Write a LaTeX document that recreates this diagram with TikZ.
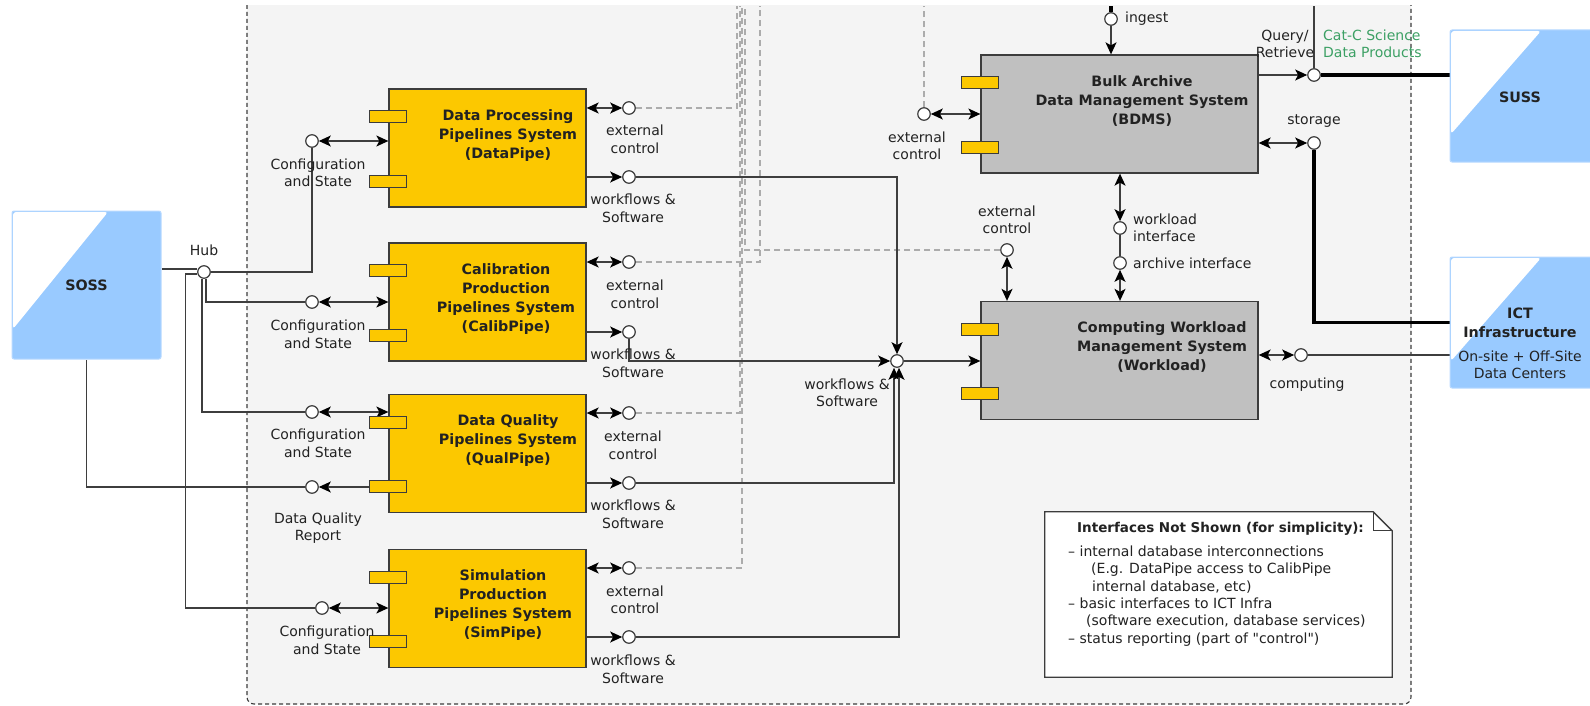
\documentclass[tikz,border=0pt]{standalone}
\usepackage{fontspec}
\setmainfont{DejaVu Sans}
% same face without the TeX input mapping, so that " stays a straight quote
\newfontfamily\straightq{DejaVu Sans}
\usetikzlibrary{arrows.meta,calc}

\definecolor{pipeyel}{RGB}{252,200,0}
\definecolor{sysgray}{RGB}{192,192,192}
\definecolor{edgec}{RGB}{60,60,60}
\definecolor{linec}{RGB}{62,62,62}
\definecolor{dashc}{RGB}{172,172,172}
\definecolor{panel}{RGB}{244,244,244}
\definecolor{extblue}{RGB}{153,202,255}
\definecolor{extedge}{RGB}{185,218,255}
\definecolor{prodgreen}{RGB}{60,160,100}
\definecolor{txt}{RGB}{34,34,34}

\pgfdeclarelayer{panel layer}
\pgfdeclarelayer{wire layer}
\pgfsetlayers{panel layer,wire layer,main}

% two small connector ports on the left edge of a component box
\newcommand\twoports[1]{%
  \draw[port] ([shift={(-18.5,22.5)}]#1.north west) rectangle ([shift={(18.5,34.5)}]#1.north west);
  \draw[port] ([shift={(-18.5,87)}]#1.north west) rectangle ([shift={(18.5,99)}]#1.north west);}

\begin{document}
\begin{tikzpicture}[x=1pt,y=-1pt,
  every node/.style={text=txt, font=\fontsize{14}{17.5}\selectfont, inner sep=0pt},
  lbl/.style={align=center},
  comp/.style={draw=edgec, line width=1.3pt, fill=pipeyel, minimum width=197pt, minimum height=118pt},
  core/.style={comp, fill=sysgray, minimum width=277pt},
  ctitle/.style={anchor=north, align=center, font=\fontsize{14.3}{19}\selectfont\bfseries},
  port/.style={draw=edgec, line width=1.1pt, fill=pipeyel},
  iface/.style={circle, draw=edgec, line width=1.2pt, fill=white, minimum size=12.5pt},
  wire/.style={draw=linec, line width=1.3pt},
  sarr/.style={wire, -{Stealth[length=12pt,width=11pt,inset=3pt,color=black]}},
  darr/.style={wire, {Stealth[length=12pt,width=11pt,inset=3pt,color=black]}-{Stealth[length=12pt,width=11pt,inset=3pt,color=black]}},
  ctrl/.style={draw=dashc, line width=1.2pt, dash pattern=on 6pt off 4pt},
  heavy/.style={draw=black, line width=3.5pt},
  boldlbl/.style={align=center, font=\fontsize{14.3}{19}\selectfont\bfseries},
  extsys/.style n args={2}{draw=extedge, line width=1pt, fill=extblue, rounded corners=2pt,
     font=\fontsize{14.3}{17.5}\selectfont\bfseries, align=center,
     path picture={\fill[white, rounded corners=3pt]
       ([shift={(1pt,-1pt)}]path picture bounding box.north west) -- ++(#1,0) -- ++(-#1,#2) -- cycle;}},
]
\useasboundingbox (0,0) rectangle (1590,706);

% page and subsystem panel
\begin{pgfonlayer}{panel layer}
  \fill[white] (0,0) rectangle (1590,706);
  \begin{scope}
    \clip (0,6) rectangle (1590,706);
    \draw[fill=panel, draw=edgec, line width=1.1pt, dash pattern=on 4pt off 3pt, rounded corners=7pt]
      (247,-30) rectangle (1411,704);
  \end{scope}
\end{pgfonlayer}

% external systems
\node[extsys={95}{117}, minimum width=149pt, minimum height=148pt] (soss) at (86.5,285) {SOSS};
\node[extsys={90}{103}, minimum width=160pt, minimum height=132pt] (suss) at (1530,96) {};
\node[boldlbl] (sussl) at (1520,97) {SUSS};
\node[extsys={90}{103}, minimum width=160pt, minimum height=131pt] (ict) at (1530,322.5) {};
\node[boldlbl] (ictl) at (1520,323) {ICT\\Infrastructure};
\node[lbl, font=\fontsize{14}{17}\selectfont] (ictsub) at (1520,364.5) {On-site + Off-Site\\Data Centers};

% pipeline components
\node[comp] (dp) at (487.5,148) {};
\twoports{dp}
\node[ctitle] (dpt) at ([shift={(20.5,21)}]dp.north) {Data Processing\\Pipelines System\\(DataPipe)};
\node[comp] (cp) at (487.5,302) {};
\twoports{cp}
\node[ctitle] (cpt) at ([shift={(18.5,21)}]cp.north) {Calibration\\Production\\Pipelines System\\(CalibPipe)};
\node[comp] (qp) at (487.5,453.5) {};
\twoports{qp}
\node[ctitle] (qpt) at ([shift={(20.5,21)}]qp.north) {Data Quality\\Pipelines System\\(QualPipe)};
\node[comp] (sp) at (487.5,608.5) {};
\twoports{sp}
\node[ctitle] (spt) at ([shift={(15.5,21)}]sp.north) {Simulation\\Production\\Pipelines System\\(SimPipe)};

% archive and workload components
\node[core] (bdms) at (1119.5,114) {};
\twoports{bdms}
\node[ctitle] (bdmst) at ([shift={(22.5,21)}]bdms.north) {Bulk Archive\\Data Management System\\(BDMS)};
\node[core] (wl) at (1119.5,360.5) {};
\twoports{wl}
\node[ctitle] (wlt) at ([shift={(42.5,21)}]wl.north) {Computing Workload\\Management System\\(Workload)};

% provided / required interfaces
\node[iface] (hub) at (204,272) {};
\node[iface] (cfg1) at (312,141) {};
\node[iface] (cfg2) at (312,302) {};
\node[iface] (cfg3) at (312,412) {};
\node[iface] (cfg4) at (322,608) {};
\node[iface] (dqr) at (312,487) {};
\node[iface] (ec1) at (629,108) {};
\node[iface] (ec2) at (629,262) {};
\node[iface] (ec3) at (629,413) {};
\node[iface] (ec4) at (629,568) {};
\node[iface] (wf1) at (629,177) {};
\node[iface] (wf2) at (629,332) {};
\node[iface] (wf3) at (629,483) {};
\node[iface] (wf4) at (629,637) {};
\node[iface] (merge) at (897,361) {};
\node[iface] (ec5) at (924,114) {};
\node[iface] (ec6) at (1007,250) {};
\node[iface] (wi) at (1120,228) {};
\node[iface] (ai) at (1120,263) {};
\node[iface] (ing) at (1111,19) {};
\node[iface] (qr) at (1314,75) {};
\node[iface] (st) at (1314,143) {};
\node[iface] (cmp) at (1301,355) {};

% interface labels
\node[lbl] (hubl) at (204,250) {Hub};
\node[lbl] (cfg1l) at (318,173) {Configuration\\and State};
\node[lbl] (cfg2l) at (318,334.5) {Configuration\\and State};
\node[lbl] (cfg3l) at (318,443.5) {Configuration\\and State};
\node[lbl] (cfg4l) at (327,640.5) {Configuration\\and State};
\node[lbl] (dqrl) at (318,528) {Data Quality\\Report};
\node[lbl] (ec1l) at (635,139.5) {external\\control};
\node[lbl] (ec2l) at (635,294.5) {external\\control};
\node[lbl] (ec3l) at (633,445.5) {external\\control};
\node[lbl] (ec4l) at (635,600) {external\\control};
\node[lbl] (wf1l) at (633,208.5) {workflows \&\\Software};
\node[lbl] (wf2l) at (633,363.5) {workflows \&\\Software};
\node[lbl] (wf3l) at (633,514.5) {workflows \&\\Software};
\node[lbl] (wf4l) at (633,669.5) {workflows \&\\Software};
\node[lbl] (mergel) at (847,393) {workflows \&\\Software};
\node[lbl] (ec5l) at (917,146) {external\\control};
\node[lbl] (ec6l) at (1007,220) {external\\control};
\node[anchor=west, align=left] (wil) at (1133,228) {workload\\interface};
\node[anchor=west] (ail) at (1133,263) {archive interface};
\node[anchor=west] (ingl) at (1125,19) {ingest};
\node[lbl] (qrl) at (1285,44) {Query/\\Retrieve};
\node[anchor=west, align=left, text=prodgreen] (catl) at (1323,44) {Cat-C Science\\Data Products};
\node[lbl] (stl) at (1314,121) {storage};
\node[lbl] (cmpl) at (1307,385) {computing};

% note
\node[minimum width=347pt, minimum height=165pt] (note) at (1218.5,594.5) {};
\draw[draw=edgec, line width=1.3pt, fill=white]
  (note.north west) -- ([xshift=-19pt]note.north east) -- ([yshift=-19pt]note.north east)
  -- (note.south east) -- (note.south west) -- cycle;
\draw[draw=edgec, line width=1.3pt] ([xshift=-19pt]note.north east) |- ([yshift=-19pt]note.north east);
\node[anchor=west, font=\fontsize{13.5}{17.5}\selectfont\bfseries] (notet) at (1077,529) {Interfaces Not Shown (for simplicity):};
\node[anchor=north west, align=left, font=\fontsize{14}{17.4}\selectfont] (notel) at (1068,545.5)
  {– internal database interconnections\\
   \hspace*{23pt}(E.g. DataPipe access to CalibPipe\\
   \hspace*{24pt}internal database, etc)\\
   – basic interfaces to ICT Infra\\
   \hspace*{18pt}(software execution, database services)\\
   – status reporting (part of {\straightq"}control{\straightq"})};

% free ends at the top edge
\coordinate (c1top) at (737,6);
\coordinate (c2top) at (760,6);
\coordinate (c3top) at (740,6);
\coordinate (c4top) at (742,6);
\coordinate (c5top) at (924,6);
\coordinate (c6top) at (745,6);
\coordinate (ingtop) at (1111,6);
\coordinate (qrtop) at (1314,6);
\coordinate (hubin) at ([yshift=3pt]hub.west);
\coordinate (hubsim) at ([yshift=-2pt]hub.west);
\coordinate (mq) at ([xshift=-3pt]merge.south);
\coordinate (ms) at ([xshift=2pt]merge.south);

\begin{pgfonlayer}{wire layer}
  % hub distribution
  \draw[wire] (hubin -| soss.east) -- (hubin);
  \draw[wire] (hub) -| (cfg1);
  \draw[wire] ([xshift=2pt]hub.south) |- (cfg2);
  \draw[wire] ([xshift=-2pt]hub.south) |- (cfg3);
  \draw[wire] (hubsim) -- ++(-12,0) |- (cfg4);
  \draw[darr] (cfg1) -- (cfg1 -| dp.west);
  \draw[darr] (cfg2) -- (cfg2 -| cp.west);
  \draw[darr] (cfg3) -- (cfg3 -| qp.west);
  \draw[darr] (cfg4) -- (cfg4 -| sp.west);
  \draw[sarr] (dqr -| qp.west) -- (dqr);
  \draw[wire] (dqr) -| (soss.south);
  % external control
  \draw[darr] (ec1 -| dp.east) -- (ec1);
  \draw[darr] (ec2 -| cp.east) -- (ec2);
  \draw[darr] (ec3 -| qp.east) -- (ec3);
  \draw[darr] (ec4 -| sp.east) -- (ec4);
  \draw[ctrl] (ec1) -| (c1top);
  \draw[ctrl] (ec2) -| (c2top);
  \draw[ctrl] (ec3) -| (c3top);
  \draw[ctrl] (ec4) -| (c4top);
  \draw[ctrl] (ec6) -| (c6top);
  \draw[ctrl] (ec5) -- (c5top);
  % workflows and software
  \draw[sarr] (wf1 -| dp.east) -- (wf1);
  \draw[sarr] (wf2 -| cp.east) -- (wf2);
  \draw[sarr] (wf3 -| qp.east) -- (wf3);
  \draw[sarr] (wf4 -| sp.east) -- (wf4);
  \draw[sarr] (wf1) -| (merge);
  \draw[sarr] (wf2) |- (merge);
  \draw[sarr] (wf3) -| (mq);
  \draw[sarr] (wf4) -| (ms);
  \draw[sarr] (merge) -- (merge -| wl.west);
  % archive and workload
  \draw[darr] (ec5) -- (ec5 -| bdms.west);
  \draw[darr] (ec6) -- (ec6 |- wl.north);
  \draw[darr] (wi |- bdms.south) -- (wi);
  \draw[wire] (wi) -- (ai);
  \draw[darr] (ai) -- (ai |- wl.north);
  \draw[heavy] (ing) -- (ingtop);
  \draw[sarr] (ing) -- (ing |- bdms.north);
  \draw[sarr] (qr -| bdms.east) -- (qr);
  \draw[wire] (qr) -- (qrtop);
  \draw[heavy] (qr) -- (qr -| suss.west);
  \draw[darr] (st -| bdms.east) -- (st);
  \draw[heavy] (st) |- (ict.west);
  \draw[darr] (cmp -| wl.east) -- (cmp);
  \draw[wire] (cmp) -- (cmp -| ict.west);
\end{pgfonlayer}
\end{tikzpicture}
\end{document}
